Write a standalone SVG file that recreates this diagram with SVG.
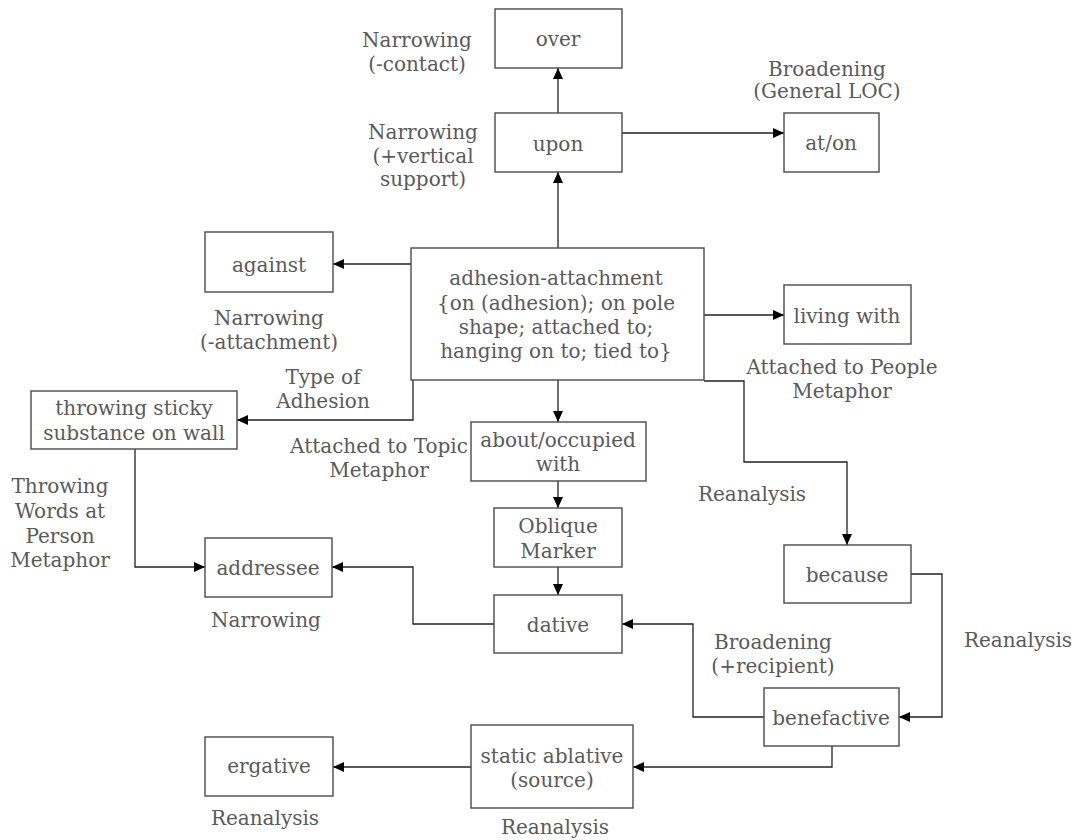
<svg xmlns="http://www.w3.org/2000/svg" width="1079" height="840" viewBox="0 0 1079 840">
<style>
  .box { fill: #ffffff; stroke: #4a4a4a; stroke-width: 1.4; }
  .t { font-family: "DejaVu Serif", "Liberation Serif", serif; font-size: 20px; fill: #5a5a5a; text-anchor: middle; }
  .c { fill: none; stroke: #222222; stroke-width: 1.3; marker-end: url(#arr); }
</style>
<defs>
  <marker id="arr" markerUnits="userSpaceOnUse" markerWidth="12" markerHeight="10" refX="11" refY="5" orient="auto">
    <path d="M0,0 L11,5 L0,10 z" fill="#000000"/>
  </marker>
</defs>
<rect width="1079" height="840" fill="#ffffff"/>

<g id="connectors">
  <path class="c" d="M558,113 L558,68"/>
  <path class="c" d="M558,248 L558,172"/>
  <path class="c" d="M622,133 L784,133"/>
  <path class="c" d="M411,264 L333,264"/>
  <path class="c" d="M704,315 L784,315"/>
  <path class="c" d="M413,380 L413,420 L237,420"/>
  <path class="c" d="M558,380 L558,422"/>
  <path class="c" d="M704,381 L744,381 L744,462 L847,462 L847,545"/>
  <path class="c" d="M558,481 L558,508"/>
  <path class="c" d="M558,567 L558,595"/>
  <path class="c" d="M135,449 L135,567 L205,567"/>
  <path class="c" d="M494,624 L413,624 L413,567 L332,567"/>
  <path class="c" d="M764,717 L693,717 L693,624 L622,624"/>
  <path class="c" d="M911,574 L942,574 L942,717 L899,717"/>
  <path class="c" d="M832,746 L832,767 L633,767"/>
  <path class="c" d="M471,767 L333,767"/>
</g>

<g id="node-over">
  <rect class="box" x="495" y="9" width="127" height="59"/>
  <text class="t" x="558" y="46">over</text>
</g>
<g id="node-upon">
  <rect class="box" x="495" y="113" width="127" height="59"/>
  <text class="t" x="558" y="151">upon</text>
</g>
<g id="node-aton">
  <rect class="box" x="784" y="113" width="95" height="59"/>
  <text class="t" x="831" y="150">at/on</text>
</g>
<g id="node-against">
  <rect class="box" x="205" y="232" width="128" height="60"/>
  <text class="t" x="269" y="272">against</text>
</g>
<g id="node-adhesion">
  <rect class="box" x="411" y="248" width="293" height="132"/>
  <text class="t" x="556" y="285">adhesion-attachment</text>
  <text class="t" x="556" y="310">{on (adhesion); on pole</text>
  <text class="t" x="556" y="334">shape; attached to;</text>
  <text class="t" x="556" y="358">hanging on to; tied to}</text>
</g>
<g id="node-living">
  <rect class="box" x="784" y="285" width="127" height="59"/>
  <text class="t" x="847" y="323">living with</text>
</g>
<g id="node-throwing">
  <rect class="box" x="31" y="391" width="206" height="58"/>
  <text class="t" x="134" y="415">throwing sticky</text>
  <text class="t" x="134" y="440">substance on wall</text>
</g>
<g id="node-about">
  <rect class="box" x="471" y="422" width="175" height="59"/>
  <text class="t" x="558" y="447">about/occupied</text>
  <text class="t" x="558" y="471">with</text>
</g>
<g id="node-oblique">
  <rect class="box" x="494" y="508" width="128" height="59"/>
  <text class="t" x="558" y="533">Oblique</text>
  <text class="t" x="558" y="558">Marker</text>
</g>
<g id="node-addressee">
  <rect class="box" x="205" y="538" width="127" height="59"/>
  <text class="t" x="268" y="575">addressee</text>
</g>
<g id="node-because">
  <rect class="box" x="784" y="545" width="127" height="58"/>
  <text class="t" x="847" y="582">because</text>
</g>
<g id="node-dative">
  <rect class="box" x="494" y="595" width="128" height="58"/>
  <text class="t" x="558" y="632">dative</text>
</g>
<g id="node-benefactive">
  <rect class="box" x="764" y="688" width="135" height="58"/>
  <text class="t" x="831" y="725">benefactive</text>
</g>
<g id="node-static">
  <rect class="box" x="471" y="725" width="162" height="83"/>
  <text class="t" x="552" y="763">static ablative</text>
  <text class="t" x="552" y="787">(source)</text>
</g>
<g id="node-ergative">
  <rect class="box" x="205" y="737" width="128" height="59"/>
  <text class="t" x="269" y="773">ergative</text>
</g>

<g id="labels">
  <text class="t" x="417" y="47">Narrowing</text>
  <text class="t" x="417" y="71">(-contact)</text>
  <text class="t" x="423" y="139">Narrowing</text>
  <text class="t" x="423" y="163">(+vertical</text>
  <text class="t" x="423" y="186">support)</text>
  <text class="t" x="827" y="76">Broadening</text>
  <text class="t" x="827" y="98">(General LOC)</text>
  <text class="t" x="269" y="325">Narrowing</text>
  <text class="t" x="269" y="349">(-attachment)</text>
  <text class="t" x="842" y="374">Attached to People</text>
  <text class="t" x="842" y="398">Metaphor</text>
  <text class="t" x="323" y="384">Type of</text>
  <text class="t" x="323" y="408">Adhesion</text>
  <text class="t" x="379" y="453">Attached to Topic</text>
  <text class="t" x="379" y="477">Metaphor</text>
  <text class="t" x="60" y="493">Throwing</text>
  <text class="t" x="60" y="518">Words at</text>
  <text class="t" x="60" y="543">Person</text>
  <text class="t" x="60" y="567">Metaphor</text>
  <text class="t" x="752" y="501">Reanalysis</text>
  <text class="t" x="266" y="627">Narrowing</text>
  <text class="t" x="773" y="649">Broadening</text>
  <text class="t" x="773" y="673">(+recipient)</text>
  <text class="t" x="1018" y="647">Reanalysis</text>
  <text class="t" x="265" y="825">Reanalysis</text>
  <text class="t" x="555" y="834">Reanalysis</text>
</g>
</svg>
